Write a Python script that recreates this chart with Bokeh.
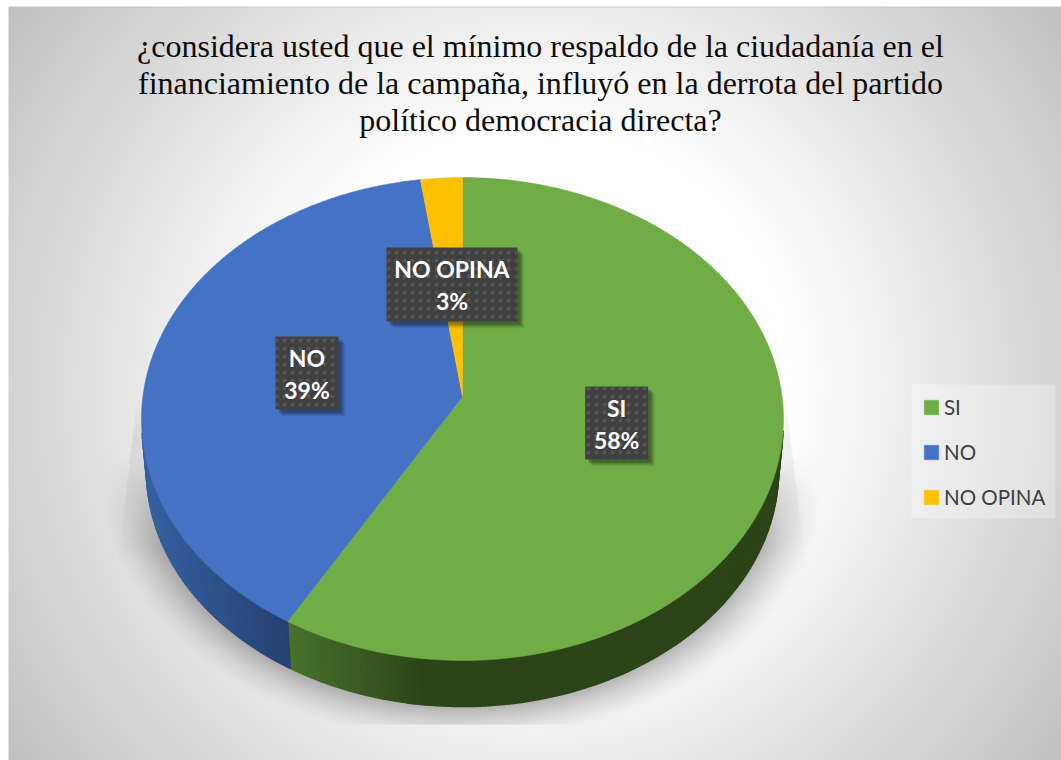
import numpy as np
from bokeh.embed import file_html
from bokeh.resources import INLINE
from bokeh.plotting import figure
from bokeh.models import Range1d, Legend, LegendItem, ColumnDataSource
from bokeh.core.properties import value

# ---- data ----
title_lines = ["¿considera usted que el mínimo respaldo de la ciudadanía en el",
               "financiamiento de la campaña, influyó en la derrota del partido",
               "político democracia directa?"]
categories = ["SI", "NO", "NO OPINA"]
shares = [58.4, 39.3, 2.3]
pct_labels = ["58%", "39%", "3%"]
colors = ["#70ad47", "#4472c4", "#ffc000"]

# ---- layout (page pixels) ----
W, H = 1061, 760
X0, TOP = 8, 6
def Y(py):
    return H - np.asarray(py, dtype=float)

AX, AY = 462.0, 396.0          # pie apex
PT, PB = 177.0, 660.0          # top / bottom of the tilted disc
RX = 321.0
k = ((PB - AY) - (AY - PT)) / ((PB - AY) + (AY - PT))
B = (AY - PT) * (1 + k)
A = RX * np.sqrt(1 - k * k)
ECY = (PT + PB) / 2
ERY = (PB - PT) / 2
OCX, OCY, ORX, ORY = 462.0, 470.0, 316.0, 236.0   # lower rim of the pie wall

def disc(theta, r=1.0):
    u, v = r * np.sin(theta), -r * np.cos(theta)
    w = 1 - k * v
    return AX + A * u / w, AY + B * v / w

# ---- background ----
xx, yy = np.meshgrid(np.arange(W) + .5, np.arange(H) + .5)
d = np.hypot(xx - 535, yy - 383) / 648
g = 255 - 63 * np.clip((d - .4) / .6, 0, 1)
e = np.hypot((xx - OCX) / ORX, (yy - OCY) / ORY)
dist = (e - 1) * 270
fade = np.clip(1 - dist / 42, 0, 1) ** 1.4 * np.clip((yy - 455) / 90, 0, 1)
shadow = 1 - .27 * fade * (yy < 724)
# faint cast-shadow plateau
xl = 133 - (yy - 430) * 15 / 130
xr = 782 + (yy - 370) * 23 / 195
plate = (xx > xl) & (xx < xr) & (yy > 370) & (yy < 724)
pf = np.clip((570 - yy) / 140, 0, 1) * np.clip((yy - 400) / 40, 0, 1)
shadow = shadow * (1 - .07 * plate * pf)
g = g * shadow
g[TOP, :] = 200
g[:TOP, :] = 255
g[:, :X0] = 255
rgba = np.zeros(g.shape, dtype=np.uint32)
view = rgba.view(np.uint8).reshape(g.shape + (4,))
view[..., 0] = view[..., 1] = view[..., 2] = g.astype(np.uint8)
view[..., 3] = 255

p = figure(width=W, height=H, output_backend="svg", toolbar_location=None,
           x_range=Range1d(0, W), y_range=Range1d(0, H),
           min_border=0, background_fill_color="white")
p.axis.visible = False
p.grid.visible = False
p.outline_line_color = None
p.image_rgba(image=[rgba[::-1]], x=0, y=0, dw=W, dh=H)
# legend panel
p.rect(983, float(Y(451)), 144, 134, fill_color="white", fill_alpha=.3, line_color=None)

# ---- wedges ----
edges = np.concatenate([[0], np.cumsum(shares)]) / np.sum(shares) * 2 * np.pi

def lerp(c0, c1, t):
    t = float(np.clip(t, 0, 1))
    return "#%02x%02x%02x" % tuple(int(round(a + (b - a) * t)) for a, b in zip(c0, c1))

wx, wy, wc = [], [], []
for i in range(len(shares)):
    a0, a1 = edges[i], edges[i + 1]
    n = max(int(np.degrees(a1 - a0)), 1)
    th = np.linspace(a0, a1, n + 1)
    for t0, t1 in zip(th[:-1], th[1:]):
        if np.degrees(t0) < 98 or np.degrees(t1) > 262:
            continue
        qx, qy = [], []
        for t in (t0, t1):
            x, y = disc(t)
            qx.append(x); qy.append(y)
        for t in (t1, t0):
            x, y = disc(t)
            cx, cy = (x - AX) / RX, (y - ECY) / ERY
            qx.append(OCX + ORX * cx); qy.append(OCY + ORY * cy)
        mid = (qx[0] + qx[1]) / 2
        if i == 0:
            c = lerp((0x47, 0x70, 0x2b), (0x2c, 0x44, 0x18), (mid - 293) / 130)
        else:
            c = lerp((0x35, 0x60, 0x9f), (0x24, 0x40, 0x6f), (mid - 150) / 143)
        wx.append(qx); wy.append(list(Y(qy))); wc.append(c)
p.patches(wx, wy, fill_color=wc, line_color=wc, line_width=1.6)

xs, ys = [], []
for i in range(len(shares)):
    th = np.linspace(edges[i], edges[i + 1], 240)
    x, y = disc(th)
    xs.append([AX] + list(x))
    ys.append(list(Y(np.r_[AY, y])))
pie = p.patches("xs", "ys", fill_color="color", line_color="color", line_width=.5,
                source=ColumnDataSource(dict(xs=xs, ys=ys, color=colors, name=categories)))

# ---- data labels ----
nudges = [(-2, -5), (0, -1), (0.5, 2)]
sizes = [(63, 73), (63, 73), (131, 74)]
for i in range(len(shares)):
    mid = (edges[i] + edges[i + 1]) / 2
    cx, cy = disc(mid, .5)
    cx += nudges[i][0]; cy += nudges[i][1]
    w, h = sizes[i]
    for off, al in ((7, .05), (6, .07), (5, .09), (4, .11), (3, .14)):
        p.rect(cx + off, float(Y(cy + off)), w, h, fill_color="black", fill_alpha=al, line_color=None)
    p.rect(cx, float(Y(cy)), w, h, fill_color="#404040", line_color=None,
           hatch_pattern="dot", hatch_color="#555555", hatch_scale=8, hatch_weight=1)
    p.text([cx, cx], list(Y([cy - 15, cy + 17])), text=[categories[i], pct_labels[i]],
           text_font=value("Lato"), text_font_style="bold", text_font_size="23px",
           text_color="white", text_align="center", text_baseline="middle")

# ---- title ----
p.text([540] * 3, list(Y([45, 82, 119])), text=title_lines, text_font=value("Liberation Serif"),
       text_font_size="32px", text_color="#0d0d0d", text_align="center", text_baseline="middle")

# ---- legend ----
legend = Legend(items=[LegendItem(label=c, renderers=[pie], index=i) for i, c in enumerate(categories)],
                location=(922, 251), orientation="vertical", margin=0, padding=10, spacing=21,
                glyph_width=18, glyph_height=18, label_standoff=4, label_height=18,
                label_text_font="Lato", label_text_font_size="20.5px", label_text_color="#404040",
                label_text_baseline="middle",
                background_fill_alpha=0, border_line_color=None)
p.add_layout(legend, "center")

open("out.html", "w").write(file_html(p, INLINE))
